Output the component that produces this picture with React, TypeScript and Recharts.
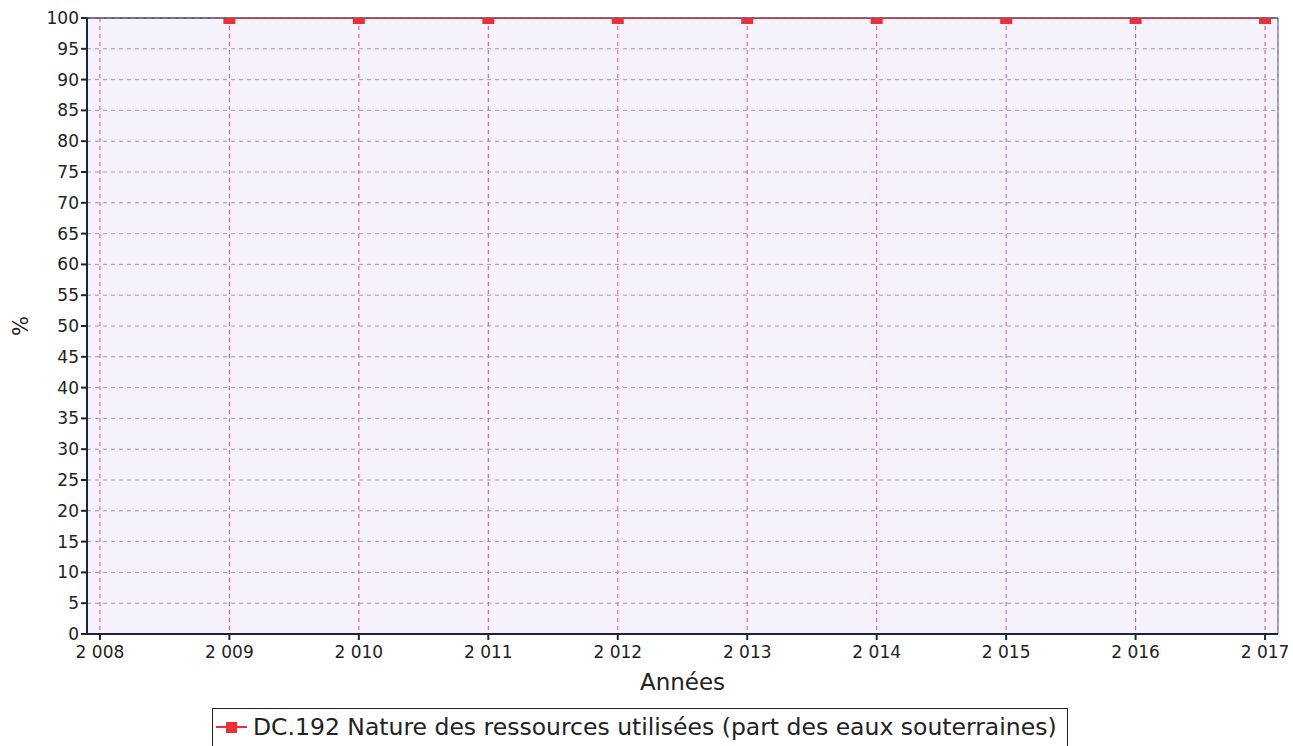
import { LineChart, Line, XAxis, YAxis, CartesianGrid, Legend, ReferenceLine } from 'recharts';

// années et part des eaux souterraines (%)
const years = [2009, 2010, 2011, 2012, 2013, 2014, 2015, 2016, 2017];
const shares = [100, 100, 100, 100, 100, 100, 100, 100, 100];
const xTicks = [2008, 2009, 2010, 2011, 2012, 2013, 2014, 2015, 2016, 2017];
const yTicks = [0, 5, 10, 15, 20, 25, 30, 35, 40, 45, 50, 55, 60, 65, 70, 75, 80, 85, 90, 95, 100];
const seriesName = 'DC.192 Nature des ressources utilisées (part des eaux souterraines)';

const data = years.map((year, i) => ({ year, share: shares[i] }));

const FONT = '"DejaVu Sans", Verdana, sans-serif';
const RED = '#e8303c';

const fmtYear = (v: number) => {
  const s = String(v);
  return s.length > 3 ? `${s.slice(0, s.length - 3)} ${s.slice(-3)}` : s;
};

function SquareDot(props: any) {
  const { cx, cy } = props;
  if (cx == null || cy == null) return null;
  return <rect x={cx - 6} y={cy - 6} width={12} height={12} fill={RED} />;
}

function LegendBox() {
  return (
    <div
      style={{
        border: '1.5px solid #222',
        padding: '4px 10px 12px 2px',
        display: 'flex',
        alignItems: 'center',
        fontFamily: FONT,
        fontSize: 23.5,
        color: '#222',
        background: '#fff',
        whiteSpace: 'nowrap',
      }}
    >
      <svg width={36} height={18} style={{ marginRight: 2 }}>
        <line x1={1} y1={9} x2={32} y2={9} stroke={RED} strokeWidth={2} />
        <rect x={11} y={4} width={11} height={11} fill={RED} />
      </svg>
      {seriesName}
    </div>
  );
}

// "%" tourné, centré sur la zone de tracé
function PercentLabel(props: any) {
  const { viewBox } = props;
  const cx = 21;
  const cy = viewBox.y + viewBox.height / 2;
  return (
    <text
      x={cx}
      y={cy}
      transform={`rotate(-90 ${cx} ${cy})`}
      textAnchor="middle"
      dominantBaseline="central"
      fill="#222"
      fontSize={21}
      fontFamily={FONT}
    >
      %
    </text>
  );
}

export default function App() {
  return (
    <div style={{ position: 'absolute', left: 0, top: 0, background: '#fff' }}>
      <LineChart
        width={1293}
        height={746}
        data={data}
        margin={{ top: 18, right: 15, left: 0, bottom: 52 }}
      >
        <CartesianGrid horizontal={false} stroke="#dd44aa" strokeDasharray="4 4" fill="#f5f2fc" />
        <CartesianGrid vertical={false} stroke="#b98ab8" strokeDasharray="4 4" />
        <XAxis
          dataKey="year"
          type="number"
          domain={[2007.9, 2017.1]}
          ticks={xTicks}
          tickFormatter={fmtYear}
          interval={0}
          height={60}
          stroke="#1c2340"
          strokeWidth={2}
          tickSize={6}
          tick={{ fill: '#222', fontSize: 17, fontFamily: FONT, dy: 4 }}
          label={{ value: 'Années', position: 'insideBottom', offset: 4, fill: '#222', fontSize: 23, fontFamily: FONT }}
        />
        <YAxis
          type="number"
          domain={[0, 100]}
          ticks={yTicks}
          interval={0}
          allowDataOverflow
          width={87}
          stroke="#1c2340"
          strokeWidth={2}
          tickSize={6}
          tick={{ fill: '#222', fontSize: 17, fontFamily: FONT }}
          label={<PercentLabel />}
        />
        <ReferenceLine x={2017.1} stroke="#8a90a0" strokeWidth={1.5} />
        <ReferenceLine y={100} stroke="#4a4a5a" strokeWidth={1.5} />
        <Legend
          verticalAlign="middle"
          content={() => <LegendBox />}
          wrapperStyle={{ position: 'absolute', left: 212, top: 708, width: 'auto' }}
        />
        <Line
          dataKey="share"
          name={seriesName}
          stroke={RED}
          strokeWidth={2}
          dot={<SquareDot />}
          activeDot={false}
          isAnimationActive={false}
        />
      </LineChart>
    </div>
  );
}
